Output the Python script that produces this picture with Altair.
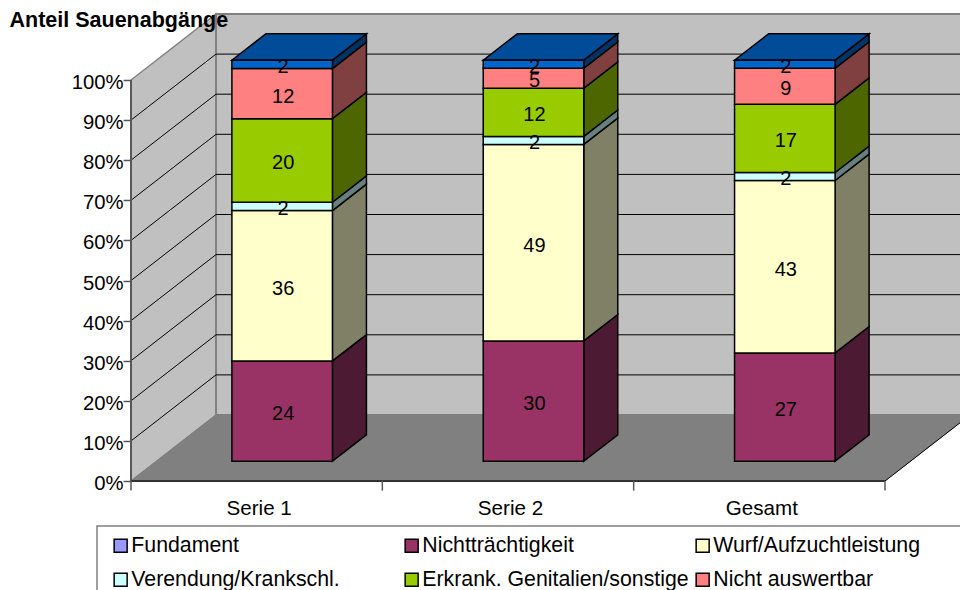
import altair as alt
import pandas as pd

FONT = "Liberation Sans"

# Percent-of-total stacked columns on an oblique 3D floor
categories = ["Serie 1", "Serie 2", "Gesamt"]
series = [
    "Fundament",
    "Nichtträchtigkeit",
    "Wurf/Aufzuchtleistung",
    "Verendung/Krankschl.",
    "Erkrank. Genitalien/sonstige",
    "Nicht auswertbar",
    "Sonstige",
]
values = {
    "Fundament": [0, 0, 0],
    "Nichtträchtigkeit": [24, 30, 27],
    "Wurf/Aufzuchtleistung": [36, 49, 43],
    "Verendung/Krankschl.": [2, 2, 2],
    "Erkrank. Genitalien/sonstige": [20, 12, 17],
    "Nicht auswertbar": [12, 5, 9],
    "Sonstige": [2, 2, 2],
}
front_colors = ["#9999FF", "#993366", "#FFFFCC", "#CCFFFF", "#99CC00", "#FF8080", "#0066CC"]
side_colors = ["#4D4D80", "#4D1A33", "#808066", "#668080", "#4D6600", "#804040", "#003366"]
top_color = "#004C99"
y_ticks = list(range(0, 101, 10))

# Projection: one unit of depth shifts a point right and up, in data units
DX = 85 / 251.33
DY = 66 / 4.01
BAR_W = 0.4
D_FRONT, D_BACK = 0.3, 0.7

x_scale = alt.Scale(domain=[-131 / 251.33, (960 - 131) / 251.33], nice=False, zero=False)
y_scale = alt.Scale(domain=[(481 - 590) / 4.01, 481 / 4.01], nice=False, zero=False)

x_axis = alt.Axis(
    values=[0.5, 1.5, 2.5], orient="bottom", offset=-109, domain=False, ticks=False, grid=False, zindex=1,
    labelFont=FONT, labelFontSize=20.6, labelColor="black", labelPadding=27, labelOffset=2,
    labelExpr="['Serie 1','Serie 2','Gesamt'][floor(datum.value)]", labelBaseline="middle", title=None,
)
y_axis = alt.Axis(
    values=y_ticks, orient="left", offset=-131, domain=False, grid=False, zindex=1, tickColor="#595959",
    tickSize=8, tickWidth=1.5, labelFont=FONT, labelFontSize=20.3, labelColor="black",
    labelPadding=0, labelOffset=2.5, labelExpr="datum.value + '%'",
    title="Anteil Sauenabgänge", titleFont=FONT, titleFontSize=21.5, titleFontWeight="bold",
    titleColor="black", titleAngle=0, titleAlign="left", titleBaseline="alphabetic",
    titleX=-122, titleY=26,
)


def X(field):
    return alt.X(field, type="quantitative", scale=x_scale, axis=x_axis)


def Y(field):
    return alt.Y(field, type="quantitative", scale=y_scale, axis=y_axis)


# Stacked segments, normalised to 100 % per column
faces, sides, tops = [], [], []
for i, cat in enumerate(categories):
    total = sum(values[s][i] for s in series)
    x0 = i + 0.5 - BAR_W / 2
    x1 = i + 0.5 + BAR_W / 2
    cum = 0.0
    for s in series:
        v = values[s][i]
        if v == 0:
            continue
        lo = cum / total * 100
        cum += v
        hi = cum / total * 100
        faces.append({
            "cat": cat, "series": s, "value": v,
            "x": x0 + D_FRONT * DX, "x2": x1 + D_FRONT * DX,
            "y": lo + D_FRONT * DY, "y2": hi + D_FRONT * DY,
            "mx": i + 0.5 + D_FRONT * DX, "my": (lo + hi) / 2 + D_FRONT * DY,
        })
        for d in (D_FRONT, D_BACK):
            sides.append({
                "cat": cat, "series": s,
                "x": x1 + d * DX, "y": lo + d * DY, "y2": hi + d * DY,
            })
    for d in (D_FRONT, D_BACK):
        tops.append({"cat": cat, "x": x0 + d * DX, "x2": x1 + d * DX, "y": 100 + d * DY})

faces = pd.DataFrame(faces)
sides = pd.DataFrame(sides)
tops = pd.DataFrame(tops)

# Chart walls and floor
n = len(categories)
left_wall = alt.Chart(pd.DataFrame({"x": [0, DX], "y": [0, DY], "y2": [100, 100 + DY]})).mark_area(
    fill="#C0C0C0", stroke="#808080", strokeWidth=1.5
).encode(x=X("x"), y=Y("y"), y2="y2:Q")
back_wall = alt.Chart(pd.DataFrame({"x": [DX], "x2": [n + DX], "y": [DY], "y2": [100 + DY]})).mark_rect(
    fill="#C0C0C0", stroke="#808080", strokeWidth=2
).encode(x=X("x"), x2="x2:Q", y=Y("y"), y2="y2:Q")
floor = alt.Chart(pd.DataFrame({"y": [0, DY], "x": [0, DX], "x2": [n, n + DX]})).mark_area(
    orient="horizontal", fill="#808080", stroke="#808080", strokeWidth=1
).encode(y=Y("y"), x=X("x"), x2="x2:Q")

# Gridlines run along the left wall, then across the back wall
grid_rows = []
for p in y_ticks[1:-1]:
    grid_rows += [
        {"level": p, "x": 0, "y": p},
        {"level": p, "x": DX, "y": p + DY},
        {"level": p, "x": n + DX, "y": p + DY},
    ]
grid = alt.Chart(pd.DataFrame(grid_rows)).mark_line(color="black", strokeWidth=1).encode(
    x=X("x"), y=Y("y"), detail="level:N"
)

value_axis = alt.Chart(pd.DataFrame({"x": [0], "y": [0], "y2": [100]})).mark_rule(
    color="#595959", strokeWidth=2
).encode(x=X("x"), y=Y("y"), y2="y2:Q")
front_edge = alt.Chart(pd.DataFrame({"x": [0], "x2": [n], "y": [0]})).mark_rule(
    color="#333333", strokeWidth=2
).encode(x=X("x"), x2="x2:Q", y=Y("y"))
right_edge = alt.Chart(pd.DataFrame({"x": [n, n + DX], "y": [0, DY]})).mark_line(
    color="black", strokeWidth=1
).encode(x=X("x"), y=Y("y"))
cat_ticks = alt.Chart(pd.DataFrame({"x": list(range(n + 1)), "y": [0] * (n + 1), "y2": [-2.4] * (n + 1)})).mark_rule(
    color="#595959", strokeWidth=1.5
).encode(x=X("x"), y=Y("y"), y2="y2:Q")

# Frame behind the legend; it runs past the right and bottom edges of the page
legend_box = alt.Chart(pd.DataFrame({
    "x": [(97 - 131) / 251.33], "x2": [(1000 - 131) / 251.33],
    "y": [(481 - 526) / 4.01], "y2": [(481 - 640) / 4.01],
})).mark_rect(fill="white", stroke="#808080", strokeWidth=1.5).encode(
    x=X("x"), x2="x2:Q", y=Y("y"), y2="y2:Q"
)

# Column side faces, one layer per darker shade
side_layers = [
    alt.Chart(sides[sides["series"] == s]).mark_area(
        fill=c, stroke="black", strokeWidth=1.5
    ).encode(x=X("x"), y=Y("y"), y2="y2:Q", detail="cat:N")
    for s, c in zip(series, side_colors)
    if (sides["series"] == s).any()
]
top_faces = alt.Chart(tops).mark_area(
    orient="horizontal", fill=top_color, stroke="black", strokeWidth=1.5
).encode(y=Y("y"), x=X("x"), x2="x2:Q", detail="cat:N")

front_faces = alt.Chart(faces).mark_rect(stroke="black", strokeWidth=1.5).encode(
    x=X("x"),
    x2="x2:Q",
    y=Y("y"),
    y2="y2:Q",
    color=alt.Color(
        "series:N",
        scale=alt.Scale(domain=series, range=front_colors),
        sort=series,
        legend=alt.Legend(
            orient="none", legendX=95, legendY=520, title=None, columns=3, gridAlign="all", direction="horizontal",
            values=series[:6], symbolType="square", symbolSize=169, symbolStrokeColor="black", symbolStrokeWidth=1.5,
            labelFont=FONT, labelFontSize=21.3, labelColor="black", labelOffset=0, labelLimit=400,
            columnPadding=3, rowPadding=12, padding=15,
        ),
    ),
)
labels = alt.Chart(faces).mark_text(
    font=FONT, fontSize=20, color="black", baseline="middle", dx=1, dy=3
).encode(x=X("mx"), y=Y("my"), text="value:Q")

chart = alt.layer(
    left_wall, back_wall, floor, grid, value_axis, front_edge, right_edge, cat_ticks, legend_box,
    *side_layers, top_faces, front_faces, labels,
).properties(
    width=960, height=590, padding=0, autosize=alt.AutoSizeParams(type="none"), background="white"
).configure_view(stroke=None)

chart.save("out.html", embed_options={"renderer": "svg", "actions": False})
